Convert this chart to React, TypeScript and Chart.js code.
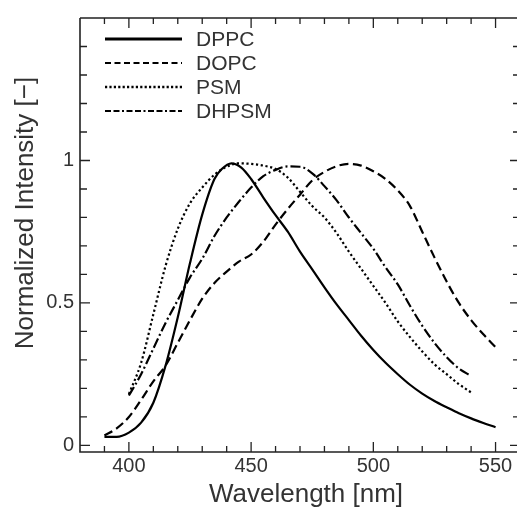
import { useEffect, useRef } from 'react';
import { Chart, registerables } from 'chart.js';

Chart.register(...registerables);

// ---- data ----
const dppcWavelength = [390, 395, 400, 405, 410, 415, 420, 425, 430, 435, 438, 442, 446, 450, 455, 460, 465, 470, 475, 480, 485, 490, 495, 500, 505, 510, 515, 520, 525, 530, 535, 540, 545, 550];
const dppcIntensity = [0.03, 0.03, 0.045, 0.08, 0.15, 0.28, 0.45, 0.64, 0.81, 0.935, 0.97, 0.99, 0.975, 0.935, 0.87, 0.808, 0.75, 0.68, 0.618, 0.555, 0.495, 0.44, 0.385, 0.335, 0.29, 0.25, 0.213, 0.182, 0.156, 0.134, 0.113, 0.095, 0.079, 0.064];

const dopcWavelength = [390, 395, 400, 405, 410, 415, 420, 425, 430, 435, 440, 445, 450, 455, 460, 465, 470, 475, 480, 485, 490, 495, 500, 505, 510, 515, 520, 525, 530, 535, 540, 545, 550];
const dopcIntensity = [0.035, 0.06, 0.1, 0.16, 0.225, 0.28, 0.36, 0.44, 0.515, 0.57, 0.61, 0.645, 0.67, 0.715, 0.775, 0.83, 0.88, 0.93, 0.96, 0.98, 0.988, 0.982, 0.962, 0.935, 0.895, 0.84, 0.75, 0.66, 0.575, 0.5, 0.44, 0.39, 0.345];

const psmWavelength = [400, 405, 410, 415, 420, 425, 430, 435, 440, 445, 450, 455, 460, 465, 470, 475, 480, 485, 490, 495, 500, 505, 510, 515, 520, 525, 530, 535, 540];
const psmIntensity = [0.18, 0.29, 0.46, 0.63, 0.76, 0.85, 0.905, 0.95, 0.978, 0.99, 0.988, 0.982, 0.97, 0.94, 0.89, 0.84, 0.8, 0.745, 0.68, 0.62, 0.56, 0.5, 0.435, 0.38, 0.33, 0.285, 0.25, 0.215, 0.186];

const dhpsmWavelength = [400, 405, 410, 415, 420, 425, 430, 435, 440, 445, 450, 455, 460, 465, 470, 475, 480, 485, 490, 495, 500, 505, 510, 515, 520, 525, 530, 535, 540];
const dhpsmIntensity = [0.175, 0.25, 0.34, 0.43, 0.51, 0.59, 0.655, 0.735, 0.8, 0.855, 0.905, 0.945, 0.967, 0.979, 0.978, 0.955, 0.91, 0.86, 0.8, 0.745, 0.69, 0.625, 0.565, 0.49, 0.42, 0.36, 0.31, 0.27, 0.244];

const seriesNames = ['DPPC', 'DOPC', 'PSM', 'DHPSM'];

const xLabelTicks = [400, 450, 500, 550];
const xMinorTicks = [390, 410, 420, 430, 440, 460, 470, 480, 490, 510, 520, 530, 540];
const yLabelTicks = [0, 0.5, 1];
const yMinorTicks = [0.1, 0.2, 0.3, 0.4, 0.6, 0.7, 0.8, 0.9, 1.1, 1.2, 1.3, 1.4];

const xTitle = 'Wavelength [nm]';
const yTitle = 'Normalized Intensity [−]';

const FONT = "'Liberation Sans', Arial, Helvetica, sans-serif";

function toPoints(xs: number[], ys: number[]) {
  return xs.map((x, i) => ({ x, y: ys[i] }));
}

const framePlugin = {
  id: 'frameAndDecor',
  afterDraw(chart: any) {
    const { ctx, chartArea, scales } = chart;
    const xs = scales.x;
    const ys = scales.y;
    const { left, right, top, bottom } = chartArea;
    ctx.save();
    // frame
    ctx.strokeStyle = '#222';
    ctx.lineWidth = 1.6;
    ctx.beginPath();
    ctx.moveTo(left, top);
    ctx.lineTo(left, bottom);
    ctx.lineTo(right, bottom);
    ctx.moveTo(left, top);
    ctx.lineTo(right, top);
    ctx.lineTo(right, bottom);
    ctx.stroke();
    // ticks (inward)
    ctx.lineWidth = 1.3;
    ctx.beginPath();
    const xTick = (v: number, len: number) => {
      const p = xs.getPixelForValue(v);
      ctx.moveTo(p, bottom);
      ctx.lineTo(p, bottom - len);
      ctx.moveTo(p, top);
      ctx.lineTo(p, top + len);
    };
    const yTick = (v: number, len: number) => {
      const p = ys.getPixelForValue(v);
      ctx.moveTo(left, p);
      ctx.lineTo(left + len, p);
      ctx.moveTo(right, p);
      ctx.lineTo(right - len, p);
    };
    xLabelTicks.forEach((v) => xTick(v, 10));
    xMinorTicks.forEach((v) => xTick(v, 6));
    yLabelTicks.forEach((v) => yTick(v, 10));
    yMinorTicks.forEach((v) => yTick(v, 7));
    ctx.stroke();

    // axis titles
    ctx.fillStyle = '#333';
    ctx.font = `26px ${FONT}`;
    ctx.textAlign = 'center';
    ctx.textBaseline = 'alphabetic';
    ctx.fillText(xTitle, 306, 502);
    ctx.save();
    ctx.translate(33, 213);
    ctx.rotate(-Math.PI / 2);
    ctx.fillText(yTitle, 0, 0);
    ctx.restore();

    // legend
    ctx.font = `21px ${FONT}`;
    ctx.textAlign = 'left';
    ctx.textBaseline = 'middle';
    chart.data.datasets.forEach((ds: any, i: number) => {
      const y = 39 + i * 24;
      ctx.save();
      ctx.strokeStyle = '#000';
      ctx.lineWidth = ds.legendWidth;
      ctx.setLineDash(ds.legendDash);
      ctx.beginPath();
      ctx.moveTo(105, y);
      ctx.lineTo(182, y);
      ctx.stroke();
      ctx.restore();
      ctx.fillStyle = '#333';
      ctx.fillText(ds.label, 196, y + 1);
    });
    ctx.restore();
  },
};

export default function App() {
  const canvasRef = useRef<HTMLCanvasElement | null>(null);

  useEffect(() => {
    const canvas = canvasRef.current;
    if (!canvas) return;
    const chart = new Chart(canvas, {
      type: 'line',
      data: {
        datasets: [
          {
            label: seriesNames[0],
            data: toPoints(dppcWavelength, dppcIntensity),
            borderColor: '#000',
            borderWidth: 2.2,
            borderDash: [],
            legendDash: [],
            legendWidth: 3,
          } as any,
          {
            label: seriesNames[1],
            data: toPoints(dopcWavelength, dopcIntensity),
            borderColor: '#000',
            borderWidth: 2.2,
            borderDash: [9, 4.5],
            legendDash: [6, 3.5],
            legendWidth: 2.2,
          } as any,
          {
            label: seriesNames[2],
            data: toPoints(psmWavelength, psmIntensity),
            borderColor: '#000',
            borderWidth: 2.2,
            borderDash: [2.2, 2.6],
            legendDash: [2.2, 2.2],
            legendWidth: 2.4,
          } as any,
          {
            label: seriesNames[3],
            data: toPoints(dhpsmWavelength, dhpsmIntensity),
            borderColor: '#000',
            borderWidth: 2.2,
            borderDash: [10, 3, 2, 3],
            legendDash: [6, 2.5, 6, 2.5, 2, 2.5],
            legendWidth: 2.2,
          } as any,
        ],
      },
      options: {
        animation: false,
        responsive: false,
        devicePixelRatio: 1,
        layout: { padding: { left: 0, right: 3, top: 15, bottom: 0 } },
        elements: {
          point: { radius: 0, hoverRadius: 0 },
          line: { cubicInterpolationMode: 'monotone', fill: false, borderCapStyle: 'butt' },
        },
        plugins: {
          legend: { display: false },
          tooltip: { enabled: false },
        },
        events: [],
        scales: {
          x: {
            type: 'linear',
            min: 380,
            max: 560,
            grid: { display: false, drawTicks: false },
            border: { display: false },
            afterFit: (scale: any) => {
              scale.height = 55;
            },
            afterBuildTicks: (scale: any) => {
              scale.ticks = xLabelTicks.map((v) => ({ value: v }));
            },
            ticks: {
              autoSkip: false,
              maxRotation: 0,
              padding: 2,
              color: '#333',
              font: { family: FONT, size: 20 },
              callback: (v: any) => String(v),
            },
          },
          y: {
            type: 'linear',
            min: -0.023,
            max: 1.5,
            grid: { display: false, drawTicks: false },
            border: { display: false },
            afterFit: (scale: any) => {
              scale.width = 80;
            },
            afterBuildTicks: (scale: any) => {
              scale.ticks = yLabelTicks.map((v) => ({ value: v }));
            },
            ticks: {
              autoSkip: false,
              padding: 6,
              color: '#333',
              font: { family: FONT, size: 20 },
              callback: (v: any) => String(v),
            },
          },
        },
      } as any,
      plugins: [framePlugin],
    });
    return () => chart.destroy();
  }, []);

  return (
    <div
      style={{
        position: 'fixed',
        left: 0,
        top: 0,
        width: 517,
        height: 507,
        overflow: 'hidden',
        background: '#fff',
      }}
    >
      <canvas ref={canvasRef} width={523} height={507} style={{ display: 'block', width: 523, height: 507 }} />
    </div>
  );
}
